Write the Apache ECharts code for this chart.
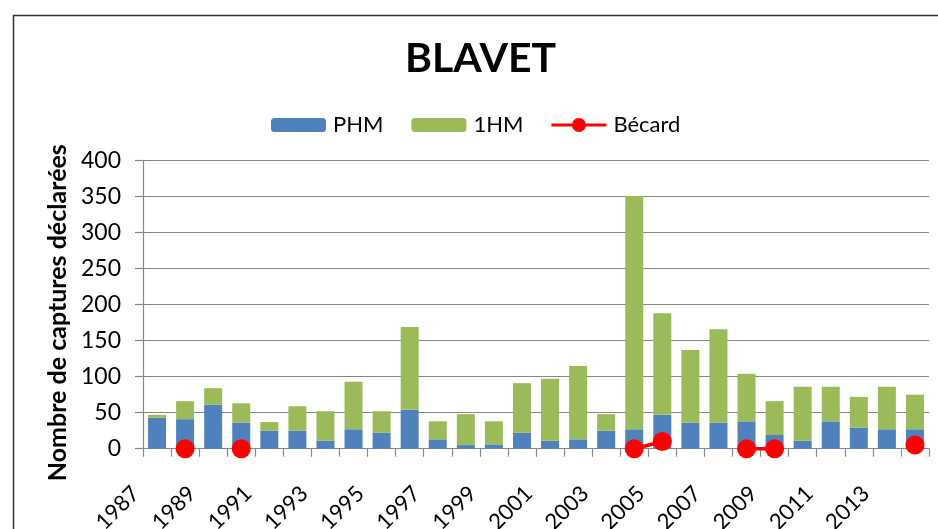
<!DOCTYPE html>
<html>
<head>
<meta charset="utf-8">
<script src="https://cdn.jsdelivr.net/npm/echarts@6/dist/echarts.min.js"></script>
<style>html,body{margin:0;padding:0;background:#fff}#c{width:938px;height:529px}</style>
</head>
<body>
<div id="c"></div>
<script>
const years = ['1987','1988','1989','1990','1991','1992','1993','1994','1995','1996','1997','1998','1999','2000','2001','2002','2003','2004','2005','2006','2007','2008','2009','2010','2011','2012','2013','2014'];
const phm = [43,41,61,36,25,25,11,27,22,54,13,5,6,22,11,13,25,27,47,36,36,38,19,11,38,29,27,27];
const hm1 = [4,25,23,27,12,34,41,66,30,115,25,43,32,69,86,102,23,324,141,101,130,66,47,75,48,43,59,48];
const becard = [null,0,null,0,null,null,null,null,null,null,null,null,null,null,null,null,null,0,10,null,null,0,0,null,null,null,null,5];
const yTicks = {min:0, max:400, interval:50};

const FONT = 'Lato';
const lineIcon = 'path://M0,5.5 L55,5.5 L55,8.5 L0,8.5 Z M20.5,7 A7,7 0 1,1 34.5,7 A7,7 0 1,1 20.5,7 Z';
const chart = echarts.init(document.getElementById('c'), null, {renderer:'canvas'});
chart.setOption({
  animation:false,
  backgroundColor:'#fff',
  textStyle:{fontFamily:FONT},
  title:{
    text:'BLAVET', left:405, top:38, padding:0,
    textStyle:{fontFamily:FONT, fontWeight:'bold', fontSize:41, color:'#000'}
  },
  legend:{
    left:271, top:114, padding:0,
    itemWidth:55, itemHeight:14, itemGap:28,
    textStyle:{fontFamily:FONT, fontSize:22, color:'#000', padding:[0,0,0,2]},
    data:[{name:'PHM'},{name:'1HM'},{name:'Bécard', icon:lineIcon}]
  },
  grid:{left:143, right:9, top:160.7, bottom:80.3, containLabel:false, outerBoundsMode:'none'},
  xAxis:{
    type:'category', data:years, boundaryGap:true,
    axisLine:{show:true, lineStyle:{color:'#878787', width:1.2}},
    axisTick:{show:true, interval:0, length:8, lineStyle:{color:'#878787', width:1.2}},
    axisLabel:{interval:1, rotate:45, margin:20, padding:[0,30,0,0], fontFamily:FONT, fontSize:22, color:'#000'}
  },
  yAxis:{
    type:'value', min:yTicks.min, max:yTicks.max, interval:yTicks.interval,
    name:'Nombre de captures déclarées', nameLocation:'middle', nameGap:65,
    nameTextStyle:{fontFamily:FONT, fontWeight:'bold', fontSize:25, color:'#000', padding:[0,16,0,0]},
    axisLine:{show:true, lineStyle:{color:'#878787', width:1.2}},
    axisTick:{show:true, length:8, lineStyle:{color:'#878787', width:1.2}},
    axisLabel:{margin:22, fontFamily:FONT, fontSize:23, color:'#000'},
    splitLine:{show:true, lineStyle:{color:'#878787', width:1.2}}
  },
  series:[
    {name:'PHM', type:'bar', stack:'t', data:phm, barWidth:18, itemStyle:{color:'#4F81BD'}},
    {name:'1HM', type:'bar', stack:'t', data:hm1, barWidth:18, itemStyle:{color:'#9BBB59'}},
    {name:'Bécard', type:'line', data:becard, connectNulls:false, clip:false,
     symbol:'circle', symbolSize:19, showAllSymbol:true,
     lineStyle:{color:'#FF0000', width:3.5}, itemStyle:{color:'#FF0000'}, z:5}
  ],
  graphic:[
    {type:'rect', left:11, top:13, shape:{x:0,y:0,width:1000,height:1000}, style:{fill:'none', stroke:'#333', lineWidth:1.5}, silent:true}
  ]
});
</script>
</body>
</html>
